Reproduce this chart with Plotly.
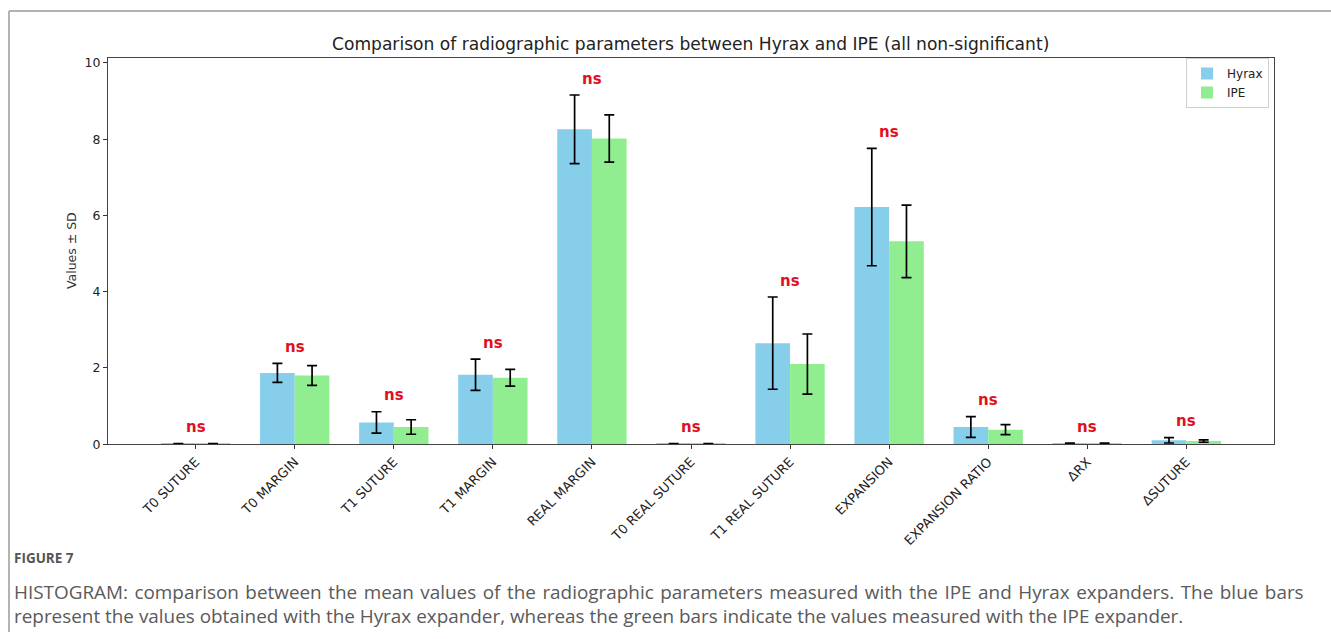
import plotly.graph_objects as go

# Radiographic parameters compared between the two expanders
categories = ["T0 SUTURE", "T0 MARGIN", "T1 SUTURE", "T1 MARGIN", "REAL MARGIN",
              "T0 REAL SUTURE", "T1 REAL SUTURE", "EXPANSION", "EXPANSION RATIO",
              "ΔRX", "ΔSUTURE"]
hyrax_mean = [0.01, 1.87, 0.57, 1.82, 8.26, 0.01, 2.65, 6.22, 0.45, 0.02, 0.10]
hyrax_sd = [0.005, 0.25, 0.28, 0.41, 0.90, 0.005, 1.21, 1.54, 0.27, 0.01, 0.07]
ipe_mean = [0.01, 1.80, 0.45, 1.74, 8.02, 0.01, 2.10, 5.32, 0.38, 0.02, 0.08]
ipe_sd = [0.005, 0.26, 0.19, 0.22, 0.62, 0.005, 0.79, 0.95, 0.13, 0.01, 0.03]
sig_labels = ["ns"] * len(categories)
y_ticks = [0, 2, 4, 6, 8, 10]

W, H = 1331, 639
# plot area in pixels
X0, X1, Y0, Y1 = 108, 1274, 57, 443


def px(x):
    return x / W


def py(y):
    # vertical pixel position -> paper fraction (small rendering offset compensated)
    return 1 - ((y - 2) / 0.984) / H


xs = list(range(len(categories)))
AX = "DejaVu Sans"

fig = go.Figure()
fig.add_trace(go.Bar(
    x=xs, y=hyrax_mean, name="Hyrax",
    marker=dict(color="#87CEEB", line=dict(width=0)),
    error_y=dict(type="data", array=hyrax_sd, color="black", thickness=1.7, width=5),
))
fig.add_trace(go.Bar(
    x=xs, y=ipe_mean, name="IPE",
    marker=dict(color="#90EE90", line=dict(width=0)),
    error_y=dict(type="data", array=ipe_sd, color="black", thickness=1.7, width=5),
))

# significance labels above the taller error bar of each pair
for i, lab in enumerate(sig_labels):
    top = max(hyrax_mean[i] + hyrax_sd[i], ipe_mean[i] + ipe_sd[i])
    fig.add_annotation(x=i, y=top + 0.43, xref="x", yref="y", text=f"<b>{lab}</b>",
                       showarrow=False, yanchor="middle",
                       font=dict(family=AX, size=15, color="#e01020"))

# title, axis label
fig.add_annotation(x=px((X0 + X1) / 2), y=py(43), xref="paper", yref="paper",
                   text="Comparison of radiographic parameters between Hyrax and IPE (all non-significant)",
                   showarrow=False, xanchor="center", yanchor="middle",
                   font=dict(family=AX, size=17.1, color="#222"))
fig.add_annotation(x=px(71), y=py((Y0 + Y1) / 2), xref="paper", yref="paper",
                   text="Values ± SD", textangle=-90, showarrow=False,
                   xanchor="center", yanchor="middle",
                   font=dict(family=AX, size=12.5, color="#333"))

# caption
CAP = "Open Sans"
fig.add_annotation(x=px(12), y=py(557), xref="paper", yref="paper", text="<b>FIGURE 7</b>",
                   showarrow=False, xanchor="left", yanchor="middle",
                   font=dict(family=CAP, size=13.5, color="#555"))
fig.add_annotation(x=px(12), y=py(591), xref="paper", yref="paper",
                   text='<span style="word-spacing:1.6px">HISTOGRAM: comparison between the mean values of the radiographic parameters measured with the IPE and Hyrax expanders. The blue bars</span>',
                   showarrow=False, xanchor="left", yanchor="middle",
                   font=dict(family=CAP, size=18.9, color="#5a5a5a"))
fig.add_annotation(x=px(12), y=py(615), xref="paper", yref="paper",
                   text="represent the values obtained with the Hyrax expander, whereas the green bars indicate the values measured with the IPE expander.",
                   showarrow=False, xanchor="left", yanchor="middle",
                   font=dict(family=CAP, size=18.9, color="#5a5a5a"))

# page frame lines
fig.add_shape(type="line", xref="paper", yref="paper", x0=px(9), x1=1, y0=py(10), y1=py(10),
              line=dict(color="#9a9a9a", width=1.5))
fig.add_shape(type="line", xref="paper", yref="paper", x0=px(9), x1=px(9), y0=py(10), y1=0,
              line=dict(color="#9a9a9a", width=1.5))

fig.update_layout(
    width=W, height=H,
    margin=dict(l=0, r=0, t=0, b=0),
    paper_bgcolor="white", plot_bgcolor="white",
    barmode="group", bargap=0.3, bargroupgap=0,
    showlegend=True,
    legend=dict(x=px(1269), y=py(57), xanchor="right", yanchor="top",
                bordercolor="#d0d0d0", borderwidth=1, bgcolor="white",
                font=dict(family=AX, size=12, color="#222"),
                itemwidth=30, tracegroupgap=0),
    xaxis=dict(domain=[px(X0), px(X1)], range=[-0.885, 10.885],
               tickmode="array", tickvals=xs, ticktext=categories, tickangle=-45,
               ticks="outside", ticklen=4, tickcolor="#333", tickwidth=1,
               showline=True, linecolor="#444", linewidth=1.2, mirror=True,
               showgrid=False, zeroline=False,
               tickfont=dict(family=AX, size=13, color="#222")),
    yaxis=dict(domain=[py(Y1), py(Y0)], range=[0, 10.13],
               tickmode="array", tickvals=y_ticks,
               ticks="outside", ticklen=4, tickcolor="#333", tickwidth=1,
               showline=True, linecolor="#444", linewidth=1.2, mirror=True,
               showgrid=False, zeroline=False,
               tickfont=dict(family=AX, size=12.5, color="#222")),
)

fig.write_html("out.html")
